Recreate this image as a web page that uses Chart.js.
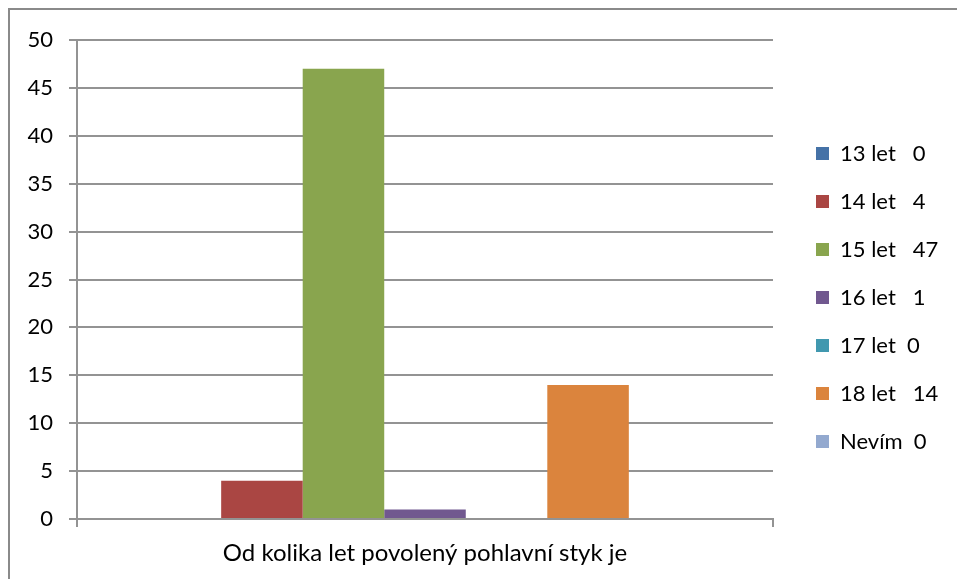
<!DOCTYPE html>
<html>
<head>
<meta charset="utf-8">
<script src="https://cdn.jsdelivr.net/npm/chart.js@4"></script>
<style>
  html, body { margin: 0; padding: 0; background: #fff; }
  #wrap { width: 957px; height: 579px; position: relative; }
</style>
</head>
<body>
<div id="wrap"><canvas id="chart"></canvas></div>
<script>
// data
const categories = ["Od kolika let povolený pohlavní styk je"];
const seriesLabels = ["13 let   0", "14 let   4", "15 let   47", "16 let   1", "17 let  0", "18 let   14", "Nevím  0"];
const seriesValues = [0, 4, 47, 1, 0, 14, 0];
const seriesColors = ["#4572A7", "#AA4643", "#89A54E", "#71588F", "#4198AF", "#DB843D", "#93A9CF"];
const yTicks = [0, 5, 10, 15, 20, 25, 30, 35, 40, 45, 50];

const gridColor = "#939393";
const tickFont = { family: "Lato", size: 22 };
const legendFont = { family: "Lato", size: 22 };
const catFont = { family: "Lato", size: 24 };

// grey frame on the left and top edge like in the screenshot
const framePlugin = {
    id: "frame",
    beforeDraw(chart) {
        const ctx = chart.ctx;
        ctx.save();
        ctx.fillStyle = "#fff";
        ctx.fillRect(0, 0, chart.width, chart.height);
        ctx.strokeStyle = "#8a8a8a";
        ctx.lineWidth = 2;
        ctx.beginPath();
        ctx.moveTo(9, chart.height);
        ctx.lineTo(9, 9);
        ctx.lineTo(chart.width, 9);
        ctx.stroke();
        ctx.restore();
    }
};

const datasets = seriesLabels.map(function (name, i) {
    return {
        label: name,
        data: [seriesValues[i]],
        backgroundColor: seriesColors[i],
        borderWidth: 0,
        categoryPercentage: 0.82,
        barPercentage: 1.0
    };
});

// empty axes, only used as spacers
function spacer(pos, size) {
    return {
        type: "linear",
        position: pos,
        display: true,
        grid: { display: false },
        border: { display: false },
        ticks: { display: false },
        afterFit(scale) {
            if (pos === "top") scale.height = size;
            else scale.width = size;
        }
    };
}

new Chart(document.getElementById("chart"), {
    type: "bar",
    data: {
        labels: categories,
        datasets: datasets
    },
    options: {
        responsive: true,
        maintainAspectRatio: false,
        animation: false,
        layout: {
            padding: { top: 26, bottom: 10, left: 10, right: 11 }
        },
        plugins: {
            tooltip: { enabled: false },
            legend: {
                position: "right",
                labels: {
                    boxWidth: 13,
                    boxHeight: 13,
                    padding: 26,
                    color: "#000",
                    font: legendFont
                }
            }
        },
        scales: {
            x: {
                grid: {
                    display: true,
                    drawOnChartArea: false,
                    drawTicks: true,
                    tickLength: 8,
                    color: gridColor,
                    lineWidth: 2
                },
                border: { display: true, color: gridColor, width: 2 },
                ticks: { color: "#000", font: catFont, padding: 12 },
                afterFit(scale) { scale.height = 50; }
            },
            y: {
                min: 0,
                max: 50,
                afterBuildTicks(scale) {
                    scale.ticks = yTicks.map(function (v) { return { value: v }; });
                },
                grid: {
                    color: gridColor,
                    lineWidth: 2,
                    tickLength: 8
                },
                border: { display: true, color: gridColor, width: 2 },
                ticks: { color: "#000", font: tickFont, padding: 16 },
                afterFit(scale) { scale.width = 67; }
            },
            gapRight: Object.assign({ axis: "y" }, spacer("right", 17)),
            gapTop: Object.assign({ axis: "x" }, spacer("top", 14))
        }
    },
    plugins: [framePlugin]
});
</script>
</body>
</html>
